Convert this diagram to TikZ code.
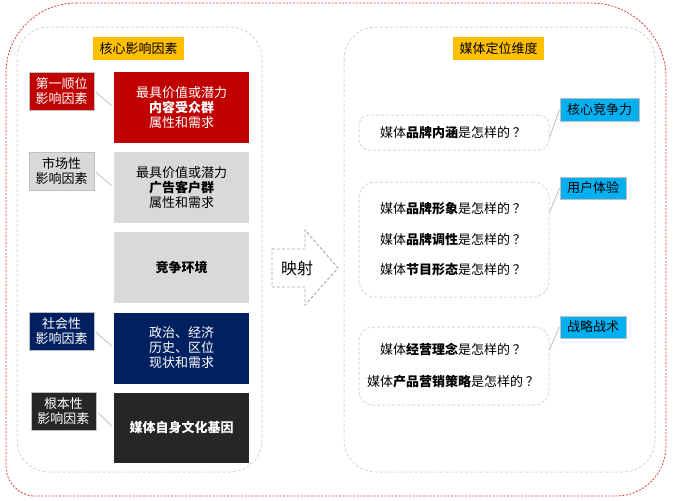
\documentclass[tikz,border=0pt]{standalone}
\usepackage{fontspec}
\setmainfont{Noto Sans CJK SC}
\definecolor{cred}{HTML}{C00000}
\definecolor{cgray}{HTML}{D9D9D9}
\definecolor{cnavy}{HTML}{002060}
\definecolor{cdark}{HTML}{262626}
\definecolor{corange}{HTML}{FFC000}
\definecolor{ccyan}{HTML}{00B0F0}
\definecolor{cline}{HTML}{BFBFBF}
\definecolor{cdash}{HTML}{D9D9D9}
\definecolor{cred2}{HTML}{E03C3C}
\newcommand{\qm}{\hspace{3pt}？}
\begin{document}
\begin{tikzpicture}[x=1pt,y=-1pt,
  txt/.style={font=\fontsize{13}{15}\selectfont, inner sep=0pt, align=center},
  mainbox/.style={txt, minimum width=135pt, minimum height=71pt},
  labbox/.style={txt, draw=cline, line width=1pt, minimum width=65pt, minimum height=38pt},
  titlebox/.style={txt, fill=corange, minimum width=91pt, minimum height=23pt},
  tagbox/.style={txt, fill=ccyan, draw=cline, line width=1pt, minimum height=22pt},
  qbox/.style={draw=cdash, dash pattern=on 3pt off 2pt, line width=1pt, minimum width=190pt, inner sep=0pt},
  conn/.style={draw=cline, line width=0.8pt},
  panel/.style={draw=cdash, dash pattern=on 3pt off 2pt, line width=1pt, rounded corners=32pt}
]
\useasboundingbox (0,0) rectangle (673,501);
% outer red dashed frame
\draw[cred2, line width=0.8pt, dash pattern=on 2pt off 1.5pt]
  (76,3) -- (591,3) .. controls (632.4,3) and (666,36.6) .. (666,78)
  -- (666,446) .. controls (666,473.6) and (643.6,496) .. (616,496)
  -- (34,496) .. controls (18.5,496) and (6,480.5) .. (6,468)
  -- (6,73) .. controls (6,34.4) and (37.4,3) .. (76,3) -- cycle;
% panels
\draw[panel] (17,27) rectangle (262,472);
\draw[panel] (344,27) rectangle (655,472);
% titles
\node[titlebox] (tl) at (138.5,48.5) {核心影响因素};
\node[titlebox] (tr) at (498.5,48.5) {媒体定位维度};
% main boxes
\node[mainbox, fill=cred, text=white] (m1) at (181.5,107.5) {最具价值或潜力\\\textbf{内容受众群}\\属性和需求};
\node[mainbox, fill=cgray] (m2) at (181.5,187.5) {最具价值或潜力\\\textbf{广告客户群}\\属性和需求};
\node[mainbox, fill=cgray] (m3) at (181.5,267.5) {\textbf{竞争环境}};
\node[mainbox, fill=cnavy, text=white] (m4) at (181.5,348) {政治、经济\\历史、区位\\现状和需求};
\node[mainbox, fill=cdark, text=white, minimum height=70pt] (m5) at (181.5,428) {\textbf{媒体自身文化基因}};
% label boxes
\node[labbox, fill=cred, text=white] (l1) at (61.5,91) {第一顺位\\影响因素};
\node[labbox, fill=cgray] (l2) at (61.5,171) {市场性\\影响因素};
\node[labbox, fill=cnavy, text=white] (l4) at (61.5,331) {社会性\\影响因素};
\node[labbox, fill=cdark, text=white] (l5) at (63.5,411.5) {根本性\\影响因素};
\draw[conn, shorten <=2pt, shorten >=3pt] (l1.east) -- (m1.west);
\draw[conn, shorten <=2pt, shorten >=3pt] (l2.east) -- (m2.west);
\draw[conn, shorten <=2pt, shorten >=3pt] (l4.east) -- (m4.west);
\draw[conn, shorten <=2pt, shorten >=3pt] (l5.east) -- (m5.west);
% mapping arrow
\draw[draw=gray!70, dash pattern=on 3pt off 2pt, line width=0.9pt]
  (272,249) -- (305,249) -- (305,230) -- (338,268) -- (305,305) -- (305,287) -- (272,287) -- cycle;
\node[inner sep=0pt, font=\fontsize{16}{18}\selectfont] (ys) at (297,268) {映射};
% question boxes
\node[qbox, rounded corners=10pt, minimum height=35pt] (q1) at (454,132.5) {};
\node[qbox, rounded corners=16pt, minimum height=115pt] (q2) at (454,239.5) {};
\node[qbox, rounded corners=14pt, minimum height=78pt] (q3) at (454,366) {};
\node[txt] (t1) at (453,133) {媒体\textbf{品牌内涵}是怎样的\qm};
\node[txt] (t2) at (453,209) {媒体\textbf{品牌形象}是怎样的\qm};
\node[txt] (t3) at (453,239.5) {媒体\textbf{品牌调性}是怎样的\qm};
\node[txt] (t4) at (453,270) {媒体\textbf{节目形态}是怎样的\qm};
\node[txt] (t5) at (453,349) {媒体\textbf{经营理念}是怎样的\qm};
\node[txt] (t6) at (453,382) {媒体\textbf{产品营销策略}是怎样的\qm};
% tags
\node[tagbox, minimum width=79pt, minimum height=23pt] (g1) at (599.5,109.5) {核心竞争力};
\node[tagbox, minimum width=66pt] (g2) at (593,188) {用户体验};
\node[tagbox, minimum width=66pt] (g3) at (593,327) {战略战术};
\draw[conn] ([yshift=-5pt]q1.east) -- (g1.west);
\draw[conn] ([yshift=-31pt]q2.north east) -- (g2.west);
\draw[conn] ([yshift=-23pt]q3.north east) -- (g3.west);
\end{tikzpicture}
\end{document}
